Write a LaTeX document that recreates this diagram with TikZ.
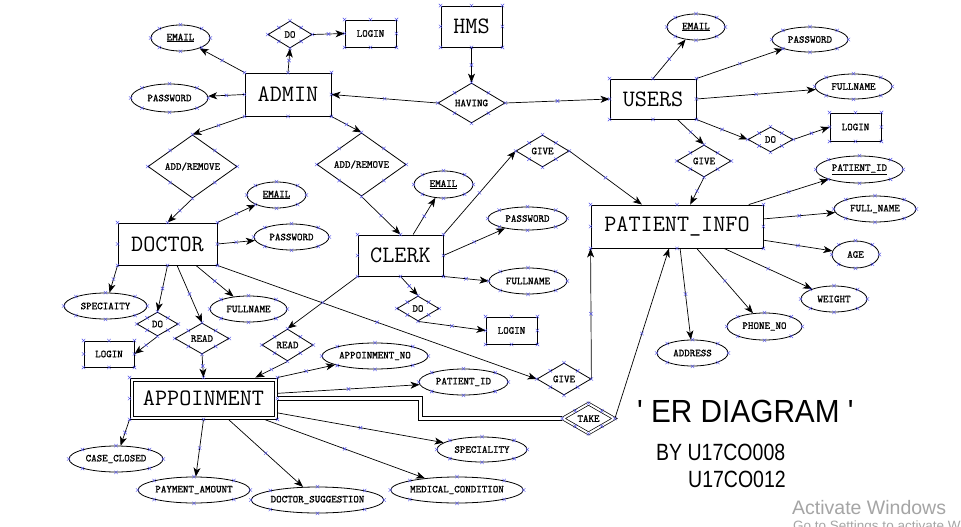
\documentclass[tikz,border=0pt]{standalone}
\usepackage{fontspec}
\newfontfamily\entfont{Latin Modern Mono}
\newfontfamily\lblfont[FakeBold=1.2]{Latin Modern Mono}
\newfontfamily\titlefont[FakeStretch=0.93]{Liberation Sans}
\newfontfamily\byfont[FakeStretch=0.83]{Liberation Sans}
\newfontfamily\winfont{Liberation Sans}
\usetikzlibrary{shapes.geometric,shapes.misc,arrows.meta,decorations.markings}
\definecolor{hx}{RGB}{80,80,235}
\definecolor{wmgray}{RGB}{165,165,165}
\tikzset{
  ent/.style={draw, line width=0.9pt, rectangle, inner sep=0pt, font=\entfont\fontsize{23.5}{25}\selectfont},
  attr/.style={draw, line width=0.8pt, ellipse, inner sep=0pt, font=\lblfont\fontsize{10.5}{12}\selectfont},
  rel/.style={draw, line width=0.8pt, diamond, inner sep=0pt, font=\lblfont\fontsize{10.5}{12}\selectfont},
  sbox/.style={draw, line width=0.9pt, rectangle, inner sep=0pt, font=\lblfont\fontsize{10.5}{12}\selectfont},
  xmk/.style={draw=hx, cross out, line width=0.4pt, minimum size=3pt, inner sep=0pt},
  conn/.style={line width=0.7pt, -{Stealth[length=9pt,width=7pt,inset=2.5pt]},
    postaction={decorate},
    decoration={markings, mark=at position 0.5 with {\node[xmk]{};}}},
  dbl/.style={line width=0.8pt, double, double distance=3.6pt},
  sz/.style 2 args={minimum width=#1pt, minimum height=#2pt},
}
\begin{document}
\begin{tikzpicture}[x=1pt,y=-1pt]
\fill[white] (0,0) rectangle (961,527);
\useasboundingbox (0,0) rectangle (961,527);

% entities
\node[ent, sz={86}{43}] (admin) at (288,94.5) {ADMIN};
\node[ent, sz={61}{41}] (hms) at (471.5,26.5) {HMS};
\node[ent, sz={86}{40}] (users) at (653,99) {USERS};
\node[ent, sz={172}{43}] (pinfo) at (677,226.5) {PATIENT\_INFO};
\node[ent, sz={85}{41}] (clerk) at (400.5,255.5) {CLERK};
\node[ent, sz={99}{42}] (doctor) at (167.5,244) {DOCTOR};
\node[ent, sz={147}{41}] (appt) at (203.5,398.5) {APPOINMENT};
\draw[line width=0.9pt] ([shift={(3.5,3.5)}]appt.north west) rectangle ([shift={(-3.5,-3.5)}]appt.south east);

% relationships
\node[rel, sz={67}{40}] (having) at (471.5,103) {HAVING};
\node[rel, sz={44}{27}] (ado) at (290,34.5) {DO};
\node[rel, sz={45}{25}] (udo) at (770.5,139.5) {DO};
\node[rel, sz={54}{32}] (ugive) at (704,161) {GIVE};
\node[rel, sz={53}{32}] (givet) at (542.5,151) {GIVE};
\node[rel, sz={89}{53}] (addr) at (361.5,164.5) {ADD/REMOVE};
\node[rel, sz={89}{53}] (addl) at (192.5,166.5) {ADD/REMOVE};
\node[rel, sz={42}{25}] (cdo) at (418,308.5) {DO};
\node[rel, sz={41}{24}] (ddo) at (157.5,324) {DO};
\node[rel, sz={54}{31}] (readl) at (202,338.5) {READ};
\node[rel, sz={51}{32}] (readr) at (287.5,345) {READ};
\node[rel, sz={54}{32}] (giveb) at (564,379) {GIVE};
\node[rel, sz={52}{30}, double, double distance=2pt, line width=0.7pt] (take) at (588.5,418.5) {TAKE};

% login boxes
\node[sbox, sz={51}{27}] (alogin) at (370.5,33.5) {LOGIN};
\node[sbox, sz={51}{28}] (ulogin) at (855.5,127) {LOGIN};
\node[sbox, sz={51}{27}] (clogin) at (511.5,330.5) {LOGIN};
\node[sbox, sz={50}{26}] (dlogin) at (109,354) {LOGIN};

% attributes
\node[attr, sz={59}{26}] (aemail) at (180.5,38) {\underline{EMAIL}};
\node[attr, sz={77}{28}] (apass) at (169.5,98) {PASSWORD};
\node[attr, sz={58}{26}] (uemail) at (696,27) {\underline{EMAIL}};
\node[attr, sz={76}{25}] (upass) at (810,39.5) {PASSWORD};
\node[attr, sz={77}{25}] (ufull) at (853.5,86.5) {FULLNAME};
\node[attr, sz={87}{27}] (ppid) at (859.5,169.5) {\underline{PATIENT\_ID}};
\node[attr, sz={82}{26}] (pfull) at (875,209) {FULL\_NAME};
\node[attr, sz={47}{27}] (pag) at (855.5,254.5) {AGE};
\node[attr, sz={66}{26}] (pweight) at (834,299) {WEIGHT};
\node[attr, sz={75}{27}] (pphone) at (764.5,326.5) {PHONE\_NO};
\node[attr, sz={71}{26}] (paddr) at (692.5,353) {ADDRESS};
\node[attr, sz={59}{27}] (cemail) at (443.5,184.5) {\underline{EMAIL}};
\node[attr, sz={79}{23}] (cpass) at (527.5,218.5) {PASSWORD};
\node[attr, sz={78}{26}] (cfull) at (528,281) {FULLNAME};
\node[attr, sz={59}{26}] (demail) at (276.5,195) {\underline{EMAIL}};
\node[attr, sz={75}{26}] (dpass) at (291.5,237) {PASSWORD};
\node[attr, sz={83}{26}] (dspec) at (105.5,306) {SPECIAITY};
\node[attr, sz={77}{26}] (dfull) at (248.5,309) {FULLNAME};
\node[attr, sz={94}{26}] (acase) at (116,459) {CASE\_CLOSED};
\node[attr, sz={112}{26}] (apay) at (194,490) {PAYMENT\_AMOUNT};
\node[attr, sz={131}{26}] (adsug) at (317.5,500) {DOCTOR\_SUGGESTION};
\node[attr, sz={130}{26}] (amed) at (457,490) {MEDICAL\_CONDITION};
\node[attr, sz={90}{25}] (aspec) at (482,449.5) {SPECIALITY};
\node[attr, sz={106}{26}] (apno) at (375,356) {APPOINMENT\_NO};
\node[attr, sz={89}{26}] (apid) at (463.5,382) {PATIENT\_ID};

% connectors
\draw[conn] (admin.north west) -- (aemail);
\draw[conn] (admin.west) -- (apass);
\draw[conn] (admin.north) -- (ado.south);
\draw[conn] (ado.east) -- (alogin.west);
\draw[conn] (hms.south) -- (having.north);
\draw[conn] (having.west) -- (admin.east);
\draw[conn] (having.east) -- (users.west);
\draw[conn] (users.north) -- (uemail);
\draw[conn] (users.north east) -- (upass);
\draw[conn] (users.east) -- (ufull);
\draw[conn] (users.south east) -- (udo.west);
\draw[conn] (udo.east) -- (ulogin.west);
\draw[conn] (users.-40) -- (ugive.north);
\draw[conn] (ugive.south) -- (pinfo.59);
\draw[conn] (admin.south west) -- (addl.north);
\draw[conn] (addl.south) -- (doctor.north);
\draw[conn] (admin.south east) -- (addr.north);
\draw[conn] (addr.south) -- (clerk.north);
\draw[conn] (doctor.north east) -- (demail);
\draw[conn] (doctor.east) -- (dpass);
\draw[conn] (doctor.south west) -- (dspec);
\draw[conn] (doctor.south) -- (ddo.north);
\draw[conn] (ddo.south) -- (dlogin.east);
\draw[conn] (doctor.-66) -- (readl.north);
\draw[conn] (doctor.-37) -- (dfull);
\draw[conn] (doctor.south east) -- (giveb.west);
\draw[conn] (giveb.east) -- (pinfo.south west);
\draw[conn] (take.east) -- (pinfo.-110);
\draw[dbl] (appt.east) -- ++(143,0) |- (take.west);
\draw[conn] (clerk.59) -- (cemail);
\draw[conn] (clerk.north east) -- (givet.west);
\draw[conn] (givet.east) -- (pinfo.148);
\draw[conn] (clerk.east) -- (cpass);
\draw[conn] (clerk.south east) -- (cfull.west);
\draw[conn] (clerk.south) -- (cdo.north);
\draw[conn] (cdo.south) -- (clogin.west);
\draw[conn] (clerk.south west) -- (readr.north);
\draw[conn] (readl.south) -- (appt.north);
\draw[conn] (readr.south) -- (appt.22);
\draw[conn] (appt.north east) -- (apno);
\draw[conn] (appt.4) -- (apid);
\draw[conn] (appt.-11) -- (aspec);
\draw[conn] (appt.-19) -- (amed);
\draw[conn] (appt.-40) -- (adsug);
\draw[conn] (appt.south) -- (apay);
\draw[conn] (appt.south west) -- (acase);
\draw[conn] (pinfo.17) -- (ppid);
\draw[conn] (pinfo.5) -- (pfull);
\draw[conn] (pinfo.-9) -- (pag);
\draw[conn] (pinfo.-25) -- (pweight);
\draw[conn] (pinfo.-48) -- (pphone);
\draw[conn] (pinfo.-82) -- (paddr);

% selection handles
\foreach \n in {admin,hms,users,pinfo,clerk,doctor,appt,having,ado,udo,ugive,givet,addr,addl,cdo,ddo,readl,readr,giveb,take,alogin,ulogin,clogin,dlogin,aemail,apass,uemail,upass,ufull,ppid,pfull,pag,pweight,pphone,paddr,cemail,cpass,cfull,demail,dpass,dspec,dfull,acase,apay,adsug,amed,aspec,apno,apid}
  \foreach \a in {north,south,east,west,north east,north west,south east,south west}
    \node[xmk] at (\n.\a) {};

% texts
\node[anchor=west, inner sep=0pt, font=\titlefont\fontsize{32}{34}\selectfont] (title) at (637,411.5) {' ER DIAGRAM '};
\node[anchor=west, inner sep=0pt, font=\byfont\fontsize{23.5}{26}\selectfont] (by1) at (656,452.5) {BY U17CO008};
\node[anchor=west, inner sep=0pt, font=\byfont\fontsize{23.5}{26}\selectfont] (by2) at (688,479.5) {U17CO012};
\node[anchor=west, inner sep=0pt, text=wmgray, font=\winfont\fontsize{19.5}{21}\selectfont] (wm1) at (792,508) {Activate Windows};
\node[anchor=north west, inner sep=0pt, text=wmgray, font=\winfont\fontsize{13.5}{15}\selectfont] (wm2) at (793,521) {Go to Settings to activate Windows.};
\end{tikzpicture}
\end{document}
